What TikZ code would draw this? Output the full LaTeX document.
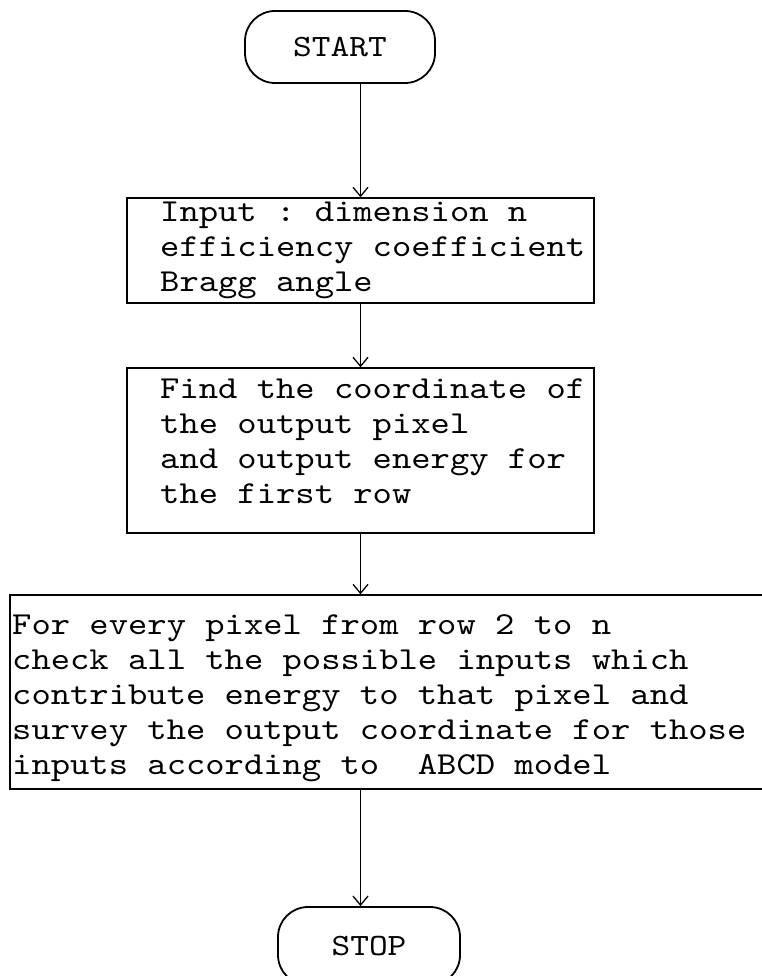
\documentclass[tikz,border=0pt]{standalone}
\usepackage{fontspec}
\setmonofont{lmmono10-regular.otf}[FakeStretch=1.15]
\usetikzlibrary{arrows.meta}
\begin{document}
\begin{tikzpicture}[x=1pt,y=-1pt,
  every node/.style={inner sep=0pt},
  term/.style={draw, line width=1.8pt, rounded corners=30pt, font=\ttfamily\fontsize{31}{35}\selectfont},
  procbox/.style={draw, line width=1.4pt},
  boxtext/.style={anchor=north west, align=left, font=\ttfamily\fontsize{32}{35}\selectfont},
  flow/.style={draw, line width=1.2pt, -{Straight Barb[length=9pt,width=15pt,line width=1.3pt]}}]
\useasboundingbox (0,0) rectangle (762,976);
\clip (0,0) rectangle (762,976);
% terminals
\node[term, minimum width=190pt, minimum height=72pt] (start) at (340,47) {START};
\node[term, minimum width=182pt, minimum height=78pt] (stop) at (369,946) {STOP};
% process boxes
\node[procbox, minimum width=467pt, minimum height=105pt] (b1) at (360.5,250.5) {};
\node[procbox, minimum width=467pt, minimum height=165pt] (b2) at (360.5,450.5) {};
\node[procbox, minimum width=765pt, minimum height=194pt] (b3) at (392.5,692) {};
% texts
\node[boxtext] (t1) at (160,197) {\strut Input : dimension n\\efficiency coefficient\\Bragg angle};
\node[boxtext] (t2) at (160,374) {\strut Find the coordinate of\\the output pixel\\and output energy for\\the first row};
\node[boxtext] (t3) at (12,610) {\strut For every pixel from row 2 to n\\check all the possible inputs which\\contribute energy to that pixel and\\survey the output coordinate for those\\inputs according to\ \ ABCD model};
% connectors
\draw[flow] (start.south -| b1.north) -- (b1.north);
\draw[flow] (b1.south) -- (b2.north);
\draw[flow] (b2.south) -- (b2.south |- b3.north);
\draw[flow] (b2.south |- b3.south) -- (b2.south |- stop.north);
\end{tikzpicture}
\end{document}
